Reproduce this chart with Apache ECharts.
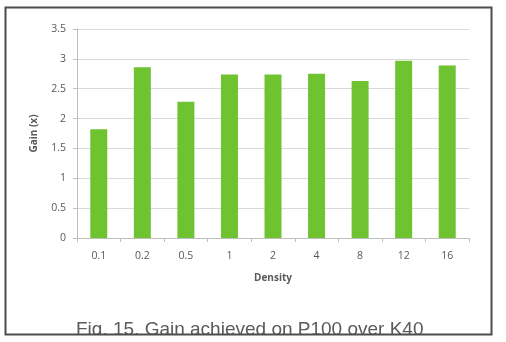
<!DOCTYPE html>
<html>
<head>
<meta charset="utf-8">
<script src="https://cdn.jsdelivr.net/npm/echarts@6/dist/echarts.min.js"></script>
<style>
  html, body { margin: 0; padding: 0; background: #fff; }
  #chart { width: 506px; height: 342px; }
</style>
</head>
<body>
<div id="chart"></div>
<script>
// densities on the x axis
const densities = ["0.1", "0.2", "0.5", "1", "2", "4", "8", "12", "16"];
// gain of P100 over K40
const gains = [1.82, 2.86, 2.28, 2.74, 2.74, 2.75, 2.63, 2.97, 2.89];
const yTicks = [0, 0.5, 1, 1.5, 2, 2.5, 3, 3.5];

const txtColor = "#595959";
const fontFam = "'Open Sans', 'Liberation Sans', sans-serif";

const chart = echarts.init(document.getElementById("chart"));
chart.setOption({
  animation: false,
  title: {
    text: "Fig. 15. Gain achieved on P100 over K40",
    left: 71,
    top: 315,
    textStyle: {
      fontFamily: "'Liberation Sans', sans-serif",
      fontWeight: "normal",
      fontSize: 19,
      color: "#5a5a5a",
    },
  },
  grid: {
    left: 77,
    right: 37,
    top: 29,
    bottom: 104,
  },
  xAxis: {
    type: "category",
    data: densities,
    name: "Density",
    nameLocation: "middle",
    nameGap: 35,
    nameTextStyle: {
      color: txtColor,
      fontWeight: "bold",
      fontSize: 10,
      fontFamily: fontFam,
    },
    axisLine: { lineStyle: { color: "#bfbfbf" } },
    axisTick: { show: true, length: 4, lineStyle: { color: "#bfbfbf" } },
    axisLabel: { color: txtColor, fontSize: 10.5, margin: 13, fontFamily: fontFam },
  },
  yAxis: {
    type: "value",
    min: yTicks[0],
    max: yTicks[yTicks.length - 1],
    interval: 0.5,
    name: "Gain (x)",
    nameLocation: "middle",
    nameRotate: 90,
    nameGap: 38,
    nameTextStyle: {
      color: txtColor,
      fontWeight: "bold",
      fontSize: 10,
      fontFamily: fontFam,
    },
    axisLine: { show: true, lineStyle: { color: "#bfbfbf" } },
    axisTick: { show: true, length: 4, lineStyle: { color: "#bfbfbf" } },
    axisLabel: { color: txtColor, fontSize: 10.5, margin: 11, fontFamily: fontFam },
    splitLine: { lineStyle: { color: "#d9d9d9" } },
  },
  series: [
    {
      type: "bar",
      data: gains,
      barWidth: "39%",
      itemStyle: { color: "#6fc230" },
    },
  ],
  graphic: [
    {
      // hides the bottom of the caption, as in the clipped figure
      type: "rect",
      z: 100,
      shape: { x: 0, y: 334, width: 506, height: 8 },
      style: { fill: "#fff" },
    },
    {
      type: "rect",
      z: 101,
      shape: { x: 5.5, y: 7.5, width: 486, height: 327 },
      style: { fill: "none", stroke: "#4d4d4d", lineWidth: 2 },
    },
  ],
});
</script>
</body>
</html>
